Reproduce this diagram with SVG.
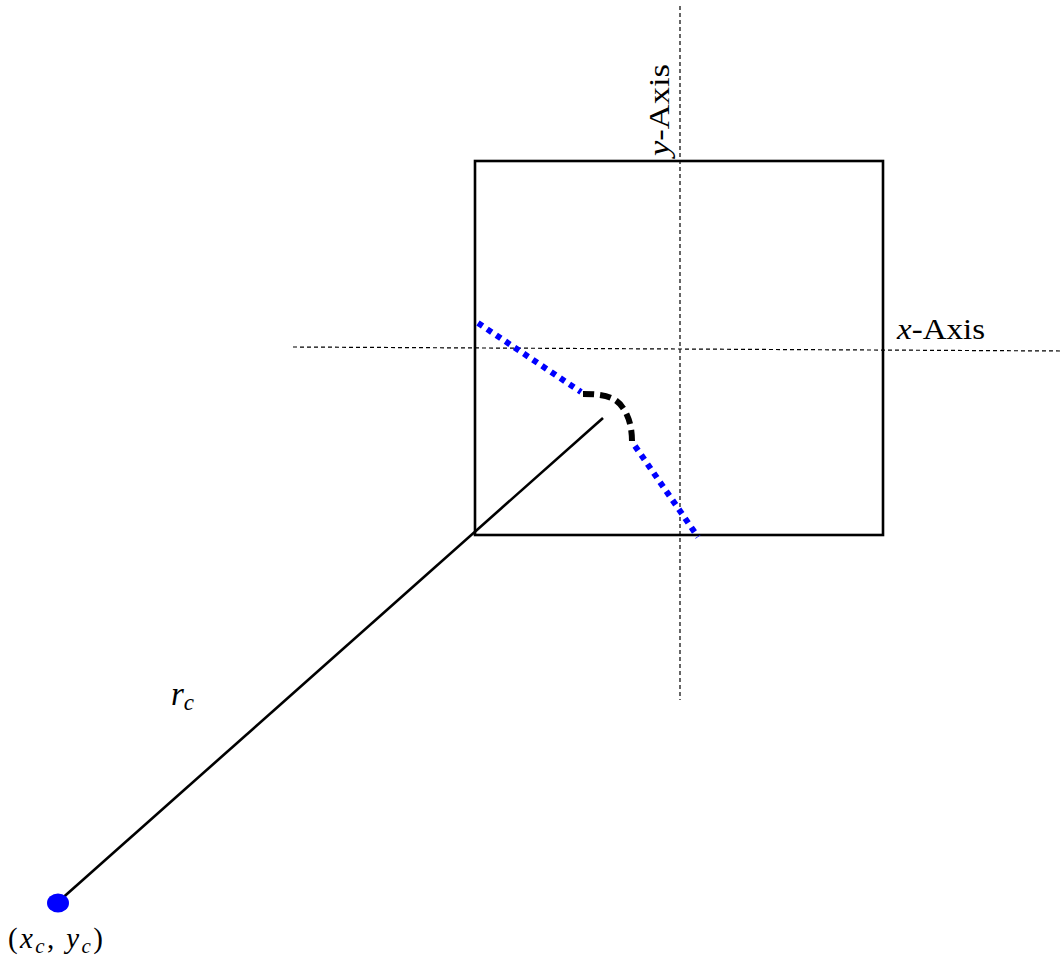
<svg xmlns="http://www.w3.org/2000/svg" width="1064" height="963" viewBox="0 0 1064 963">
<style>
.axis{stroke:#000;stroke-width:1.2;stroke-dasharray:4,3;fill:none}
.box{stroke:#000;stroke-width:2.6;fill:none}
.blue{stroke:#0000ff;stroke-width:6;stroke-dasharray:5.5,5.5;fill:none}
.crack{stroke:#000;stroke-width:6;stroke-dasharray:11,6;fill:none}
.lbl{font-family:'Liberation Serif','DejaVu Serif',serif;font-size:29px;fill:#000}
.it{font-style:italic}
</style>
<rect width="1064" height="963" fill="#fff"/>
<g id="axes">
<line class="axis" x1="293" y1="347" x2="1062" y2="351"/>
<line class="axis" x1="680" y1="6" x2="680" y2="700"/>
</g>
<g id="square">
<rect class="box" x="475" y="161" width="408" height="374"/>
</g>
<g id="connectors">
<line x1="58" y1="902" x2="603" y2="418" stroke="#000" stroke-width="2.6"/>
<path class="blue" d="M478,323 L581,392"/>
<path class="crack" d="M583,394 C605,394 616,397 623,408 C630,418 632,430 632,442"/>
<path class="blue" d="M635,446 L698,537"/>
</g>
<g id="center">
<ellipse cx="58" cy="903" rx="11" ry="9.5" fill="#0000ff"/>
</g>
<g id="labels">
<text class="lbl" x="897" y="339" textLength="88" lengthAdjust="spacingAndGlyphs"><tspan class="it">x</tspan>-Axis</text>
<text class="lbl" transform="translate(669,156) rotate(-90)" textLength="92" lengthAdjust="spacingAndGlyphs"><tspan class="it">y</tspan>-Axis</text>
<text class="lbl" x="171" y="705" style="font-size:33px"><tspan class="it">r</tspan><tspan class="it" style="font-size:23px" dy="5">c</tspan></text>
<text class="lbl" x="8" y="948" textLength="95" lengthAdjust="spacing">(<tspan class="it">x</tspan><tspan class="it" style="font-size:21px" dy="5">c</tspan><tspan dy="-5">, </tspan><tspan class="it">y</tspan><tspan class="it" style="font-size:21px" dy="5">c</tspan><tspan dy="-5">)</tspan></text>
</g>
</svg>
